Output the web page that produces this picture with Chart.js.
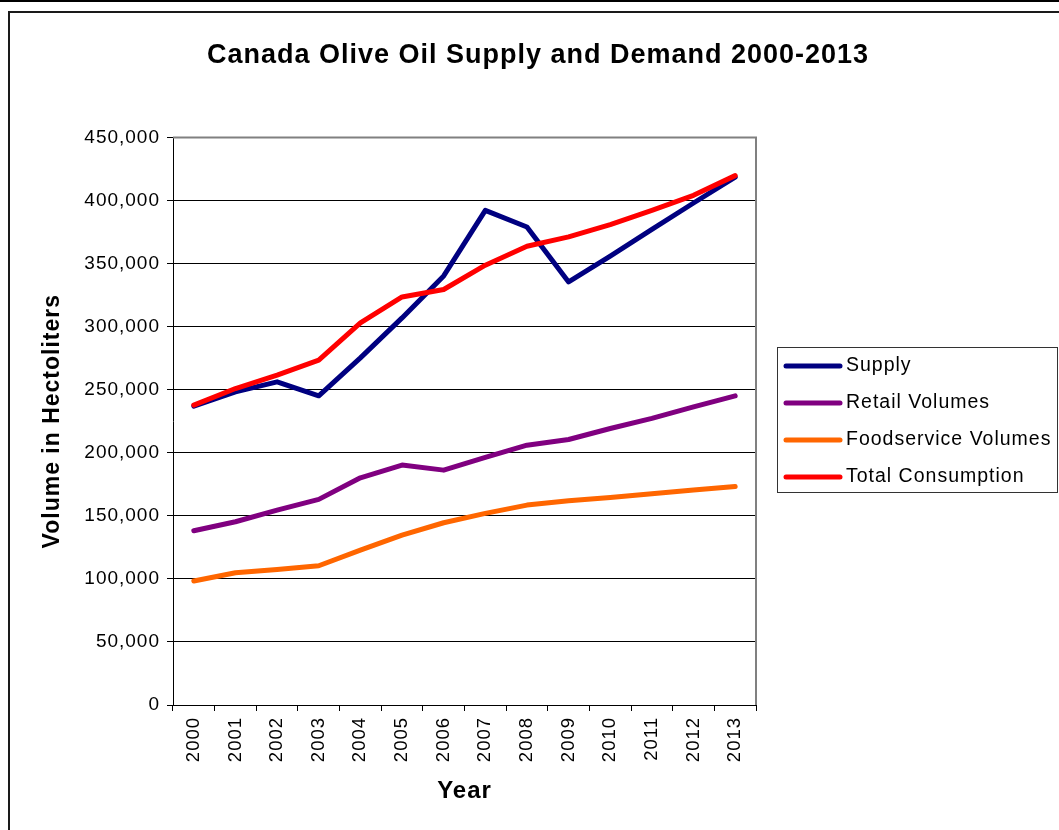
<!DOCTYPE html>
<html>
<head>
<meta charset="utf-8">
<script src="https://cdn.jsdelivr.net/npm/chart.js@4"></script>
<style>
  html, body { margin: 0; padding: 0; background: #fff; }
  #wrap { width: 1059px; height: 830px; }
</style>
</head>
<body>
<div id="wrap"><canvas id="oliveChart" width="1059" height="830"></canvas></div>
<script>
const years = ['2000', '2001', '2002', '2003', '2004', '2005', '2006',
               '2007', '2008', '2009', '2010', '2011', '2012', '2013'];

const supply = [236900, 248300, 256200, 245100, 275200, 306900, 340200,
                392200, 379000, 335400, 355800, 377000, 398000, 418500];
const retailVolumes = [138100, 145300, 154500, 163000, 180100, 190200, 186200,
                       196300, 206000, 210500, 219200, 227200, 236400, 245100];
const foodserviceVolumes = [98300, 104800, 107500, 110400, 122800, 134700, 144500,
                            151900, 158500, 161900, 164600, 167400, 170400, 173300];
const totalConsumption = [237700, 250900, 261500, 273400, 303000, 323500, 329400,
                          348700, 363700, 371100, 380900, 392200, 404100, 419700];

const FONT = 'Liberation Sans, Arial, sans-serif';

function lineSet(label, values, color, order) {
    return {
        label: label,
        data: values,
        borderColor: color,
        backgroundColor: color,
        borderWidth: 5,
        pointRadius: 0,
        pointHoverRadius: 0,
        tension: 0,
        borderCapStyle: 'round',
        borderJoinStyle: 'round',
        order: order
    };
}

// slightly wider text, set before measuring and before drawing
const spacingPlugin = {
    id: 'spacing',
    beforeUpdate(chart) { chart.ctx.letterSpacing = '1px'; },
    beforeDraw(chart) { chart.ctx.letterSpacing = '1px'; }
};

// white page, top rule and the frame around the chart
const framePlugin = {
    id: 'frame',
    beforeDraw(chart) {
        const ctx = chart.ctx;
        ctx.save();
        ctx.fillStyle = '#fff';
        ctx.fillRect(0, 0, chart.width, chart.height);
        ctx.fillStyle = '#000';
        ctx.fillRect(0, 0, chart.width, 2);
        ctx.fillStyle = '#1a1a1a';
        ctx.fillRect(8, 11, chart.width - 8, 2);
        ctx.fillRect(8, 11, 2, chart.height - 11);
        ctx.restore();
    }
};

// gray top/right edge of the plot area plus the boxed legend
const plotBoxPlugin = {
    id: 'plotBox',
    afterDatasetsDraw(chart) {
        const {ctx, chartArea: a} = chart;
        ctx.save();
        ctx.strokeStyle = '#808080';
        ctx.lineWidth = 2;
        ctx.beginPath();
        ctx.moveTo(a.left, a.top);
        ctx.lineTo(a.right, a.top);
        ctx.lineTo(a.right, a.bottom);
        ctx.stroke();
        ctx.restore();
    },
    afterDraw(chart) {
        const {ctx, chartArea: a} = chart;
        const sets = chart.data.datasets;
        const rowH = 37;
        const boxW = 280, boxH = 145;
        const x0 = a.right + 21;
        const y0 = Math.round((a.top + a.bottom) / 2 - boxH / 2) - 2;
        ctx.save();
        ctx.strokeStyle = '#333';
        ctx.lineWidth = 1;
        ctx.strokeRect(x0 + 0.5, y0 + 0.5, boxW, boxH);
        ctx.font = '19.5px ' + FONT;
        ctx.textBaseline = 'middle';
        ctx.fillStyle = '#000';
        sets.forEach((ds, i) => {
            const y = y0 + 19 + i * rowH;
            ctx.strokeStyle = ds.borderColor;
            ctx.lineWidth = 5;
            ctx.lineCap = 'round';
            ctx.beginPath();
            ctx.moveTo(x0 + 9, y);
            ctx.lineTo(x0 + 63, y);
            ctx.stroke();
            ctx.fillText(ds.label, x0 + 69, y);
        });
        ctx.restore();
    }
};

new Chart(document.getElementById('oliveChart'), {
    type: 'line',
    data: {
        labels: years,
        datasets: [
            lineSet('Supply', supply, '#000080', 1),
            lineSet('Retail Volumes', retailVolumes, '#800080', 1),
            lineSet('Foodservice Volumes', foodserviceVolumes, '#FF6600', 1),
            lineSet('Total Consumption', totalConsumption, '#FF0000', 0)
        ]
    },
    plugins: [spacingPlugin, framePlugin, plotBoxPlugin],
    options: {
        responsive: false,
        animation: false,
        layout: { padding: { left: 17, right: 0, top: 0, bottom: 0 } },
        scales: {
            x: {
                offset: true,
                grid: {
                    offset: true,
                    drawOnChartArea: false,
                    tickLength: 6,
                    color: '#000'
                },
                border: { color: '#000', width: 1 },
                ticks: {
                    color: '#000',
                    font: { family: FONT, size: 18.5 },
                    minRotation: 90,
                    maxRotation: 90,
                    padding: 6,
                    autoSkip: false
                },
                title: {
                    display: true,
                    text: 'Year',
                    color: '#000',
                    font: { family: FONT, size: 24, weight: 'bold' },
                    padding: { top: 0, bottom: 24 }
                },
                afterFit(scale) { scale.height = 125; }
            },
            y: {
                min: 0,
                max: 450000,
                grid: { color: '#000', tickLength: 6 },
                border: { color: '#000', width: 1 },
                ticks: {
                    stepSize: 50000,
                    color: '#000',
                    padding: 7,
                    font: { family: FONT, size: 19 },
                    callback: v => v.toLocaleString('en-US')
                },
                title: {
                    display: true,
                    text: 'Volume in Hectoliters',
                    color: '#000',
                    font: { family: FONT, size: 23, weight: 'bold' },
                    padding: { top: 22, bottom: 0 }
                },
                afterFit(scale) { scale.width = 156; }
            },
            // empty axis that reserves the room for the legend on the right
            legendRoom: {
                type: 'linear',
                position: 'right',
                grid: { display: false },
                border: { display: false },
                ticks: { display: false },
                afterFit(scale) { scale.width = 303; }
            }
        },
        plugins: {
            legend: { display: false },
            tooltip: { enabled: false },
            title: {
                display: true,
                text: 'Canada Olive Oil Supply and Demand 2000-2013',
                color: '#000',
                font: { family: FONT, size: 27, weight: 'bold' },
                padding: { top: 39, bottom: 66 }
            }
        }
    }
});
</script>
</body>
</html>
